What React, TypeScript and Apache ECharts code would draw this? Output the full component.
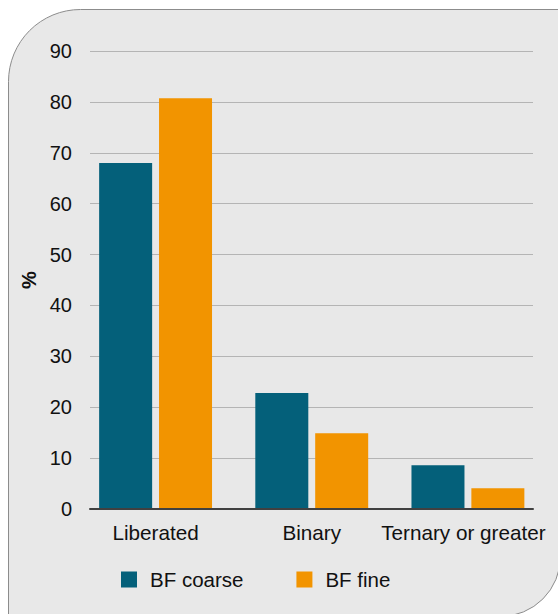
import React, { useEffect, useRef } from "react";
import * as echarts from "echarts";

const categories = ["Liberated", "Binary", "Ternary or greater"];
const coarseValues = [68.0, 22.8, 8.6];
const fineValues = [80.7, 14.9, 4.1];
const seriesNames = ["BF coarse", "BF fine"];
const yAxisName = "%";

const FONT = "'Liberation Sans', Arial, sans-serif";

export default function App() {
  const ref = useRef<HTMLDivElement>(null);
  useEffect(() => {
    if (!ref.current) return;
    const chart = echarts.init(ref.current, undefined, { renderer: "svg" });
    chart.setOption({
      animation: false,
      backgroundColor: "#ffffff",
      textStyle: { fontFamily: FONT },
      graphic: [
        {
          type: "rect",
          z: -10,
          silent: true,
          shape: { x: 8.5, y: 9.5, width: 552, height: 607, r: [72, 0, 60, 0] },
          style: { fill: "#e8e8e8", stroke: "#8c8c8c", lineWidth: 1 },
        },
      ],
      legend: {
        left: 121,
        top: 569,
        padding: 0,
        itemWidth: 16,
        itemHeight: 16,
        itemGap: 53,
        icon: "rect",
        textStyle: { fontSize: 20.5, color: "#111", fontFamily: FONT, padding: [0, 0, 0, 8] },
        data: seriesNames,
      },
      grid: [
        { left: 77.5, right: 12, top: 51, bottom: 105 },
        { left: 90, right: 25, top: 51, bottom: 105 },
      ],
      xAxis: [
        {
          type: "category",
          gridIndex: 0,
          data: categories,
          axisLine: { show: false },
          axisTick: { show: false },
          axisLabel: {
            fontSize: 20.7,
            color: "#111",
            margin: 13,
            interval: 0,
            fontFamily: FONT,
            formatter: (v: string, i: number) => (i === categories.length - 1 ? `{t|${v}}` : `{n|${v}}`),
            rich: {
              n: { fontSize: 20.7, color: "#111", fontFamily: FONT },
              t: { fontSize: 20.7, color: "#111", fontFamily: FONT, padding: [0, 9, 0, 0] },
            },
          },
        },
        {
          type: "category",
          gridIndex: 1,
          data: categories,
          axisLine: { show: true, lineStyle: { color: "#404040", width: 2 } },
          axisTick: { show: false },
          axisLabel: { show: false },
          z: 5,
        },
      ],
      yAxis: [
        {
          type: "value",
          gridIndex: 0,
          min: 0,
          max: 90,
          interval: 10,
          show: false,
          splitLine: { show: false },
        },
        {
          type: "value",
          gridIndex: 1,
          min: 0,
          max: 90,
          interval: 10,
          name: yAxisName,
          nameLocation: "middle",
          nameGap: 49,
          nameRotate: 90,
          nameTextStyle: { fontSize: 20, fontWeight: "bold", color: "#111", fontFamily: FONT },
          axisLine: { show: false },
          axisTick: { show: false },
          axisLabel: { fontSize: 20, color: "#111", margin: 18, fontFamily: FONT },
          splitLine: { show: true, lineStyle: { color: "#b4b4b4", width: 1 } },
        },
      ],
      series: [
        {
          name: seriesNames[0],
          type: "bar",
          xAxisIndex: 0,
          yAxisIndex: 0,
          data: coarseValues,
          barWidth: 53,
          barGap: "13%",
          itemStyle: { color: "#04607a" },
        },
        {
          name: seriesNames[1],
          type: "bar",
          xAxisIndex: 0,
          yAxisIndex: 0,
          data: fineValues,
          barWidth: 53,
          barGap: "13%",
          itemStyle: { color: "#f29400" },
        },
      ],
    });
    return () => chart.dispose();
  }, []);
  return (
    <div
      ref={ref}
      style={{ position: "fixed", left: 0, top: 0, width: 558, height: 614 }}
    />
  );
}
